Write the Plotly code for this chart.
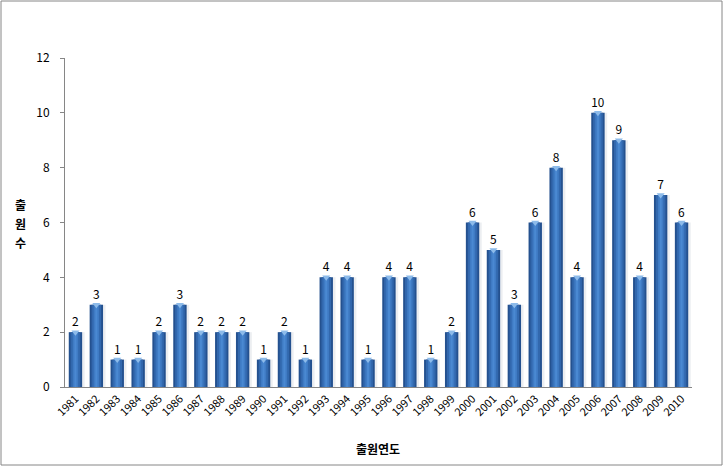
import plotly.graph_objects as go

years = [str(y) for y in range(1981, 2011)]
counts = [2, 3, 1, 1, 2, 3, 2, 2, 2, 1, 2, 1, 4, 4, 1, 4, 4, 1, 2, 6, 5, 3, 6, 8, 4, 10, 9, 4, 7, 6]
y_ticks = [0, 2, 4, 6, 8, 10, 12]
y_title_chars = ["출", "원", "수"]
x_title = "출원연도"

FONT = "Noto Sans CJK KR"

fig = go.Figure()
# shadow
fig.add_trace(go.Bar(x=years, y=counts, width=0.72, offset=-0.28,
                     marker=dict(color="rgba(200,205,215,0.35)", line=dict(width=0)),
                     hoverinfo="skip", showlegend=False))
# base (dark edges)
fig.add_trace(go.Bar(x=years, y=counts, width=0.64, offset=-0.32,
                     marker=dict(color="#24518F", line=dict(width=0)),
                     text=[str(c) for c in counts], textposition="outside",
                     textfont=dict(family=FONT, size=12, color="#000000"),
                     cliponaxis=False, showlegend=False))
fig.add_trace(go.Bar(x=years, y=counts, width=0.46, offset=-0.23,
                     marker=dict(color="#3268AE", line=dict(width=0)),
                     hoverinfo="skip", showlegend=False))
fig.add_trace(go.Bar(x=years, y=counts, width=0.26, offset=-0.13,
                     marker=dict(color="#3F7BC4", line=dict(width=0)),
                     hoverinfo="skip", showlegend=False))
fig.add_trace(go.Bar(x=years, y=counts, width=0.10, offset=-0.05,
                     marker=dict(color="#4A89D2", line=dict(width=0)),
                     hoverinfo="skip", showlegend=False))
# top caps
fig.add_trace(go.Scatter(x=years, y=counts, mode="markers",
                         marker=dict(symbol="triangle-down", size=7, color="#8DBBEA",
                                     line=dict(width=0)),
                         hoverinfo="skip", showlegend=False, cliponaxis=False))

L, R, T, B = 65, 32, 58, 80
W, H = 724, 467
pw, ph = W - L - R, H - T - B

annotations = []
for i, ch in enumerate(y_title_chars):
    annotations.append(dict(text="<b>" + ch + "</b>", xref="paper", yref="paper",
                            x=(20 - L) / pw, y=(387 - (204 + 19 * i)) / ph,
                            showarrow=False, font=dict(size=12, family=FONT),
                            xanchor="center", yanchor="middle"))
annotations.append(dict(text="<b>" + x_title + "</b>", xref="paper", yref="paper",
                        x=(378 - L) / pw, y=(387 - 448) / ph, showarrow=False,
                        font=dict(size=12, family=FONT), xanchor="center", yanchor="middle"))

fig.update_layout(
    width=W, height=H, barmode="overlay",
    margin=dict(l=L, r=R, t=T, b=B),
    paper_bgcolor="white", plot_bgcolor="white",
    font=dict(family=FONT, size=11, color="#000000"),
    xaxis=dict(type="category", tickangle=-45, showgrid=False,
               showline=True, linecolor="#868686", linewidth=1,
               ticks="", tickfont=dict(size=11), range=[-0.5, 29.5]),
    yaxis=dict(range=[0, 12], tickvals=y_ticks, showgrid=False,
               showline=True, linecolor="#868686", linewidth=1,
               ticks="outside", ticklen=4, tickcolor="#868686",
               ticklabelstandoff=8,
               tickfont=dict(size=12), zeroline=False),
    annotations=annotations,
    shapes=[dict(type="rect", xref="paper", yref="paper",
                 x0=(1 - L) / pw, x1=(722 - L) / pw,
                 y0=(387 - 465) / ph, y1=(387 - 1) / ph,
                 line=dict(color="#868686", width=1))],
)

fig.write_html("out.html")
